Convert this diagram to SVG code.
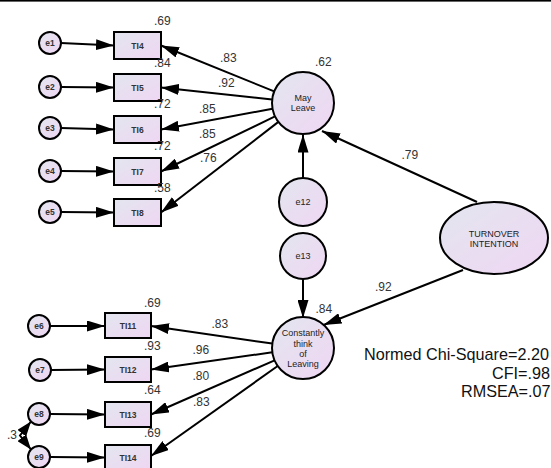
<svg xmlns="http://www.w3.org/2000/svg" width="551" height="468" viewBox="0 0 551 468">
  <defs>
    <linearGradient id="fillGrad" x1="0" y1="0" x2="1" y2="1">
      <stop offset="0" stop-color="#e3e6ef"/>
      <stop offset="1" stop-color="#efd6f3"/>
    </linearGradient>
    <marker id="arrow" viewBox="0 0 18 11" refX="18" refY="5.5" markerWidth="18" markerHeight="11" markerUnits="userSpaceOnUse" orient="auto-start-reverse">
      <path d="M0,0 L18,5.5 L0,11 Z" fill="#000"/>
    </marker>
    <marker id="arrowSmall" viewBox="0 0 15 11" refX="15" refY="5.5" markerWidth="15" markerHeight="11" markerUnits="userSpaceOnUse" orient="auto-start-reverse">
      <path d="M0,0 L15,5.5 L0,11 Z" fill="#000"/>
    </marker>
  </defs>
  <style>
    .node { fill: url(#fillGrad); stroke: #000; stroke-width: 2; }
    .lbl { font-family: "Liberation Sans", Arial, sans-serif; font-size: 9px; fill: #222; text-anchor: middle; }
    .lbl.b { font-weight: bold; fill: #333; font-size: 8.5px; }
    .coef { font-family: "Liberation Sans", Arial, sans-serif; font-size: 12px; fill: #333; }
    .fit { font-family: "Liberation Sans", Arial, sans-serif; font-size: 16.2px; fill: #111; }
    .conn line, .conn path { stroke: #000; stroke-width: 2; fill: none; marker-end: url(#arrow); }
  </style>
  <rect width="551" height="468" fill="#fff"/>
  <rect x="0" y="0" width="551" height="1.6" fill="#000"/>

  <!-- connectors -->
  <g id="connectors" class="conn">
    <!-- error terms to indicators -->
    <line x1="61" y1="43" x2="114" y2="45.5"/>
    <line x1="61" y1="87" x2="114" y2="87.5"/>
    <line x1="61" y1="128" x2="114" y2="129.5"/>
    <line x1="61" y1="171" x2="114" y2="171.5"/>
    <line x1="61" y1="212" x2="114" y2="212.5"/>
    <line x1="50" y1="326" x2="105" y2="326"/>
    <line x1="51" y1="370" x2="105" y2="369.5"/>
    <line x1="50" y1="414" x2="105" y2="414.5"/>
    <line x1="50" y1="457" x2="105" y2="457.5"/>
    <!-- May Leave loadings -->
    <line x1="274.2" y1="91.4" x2="161" y2="45.5"/>
    <line x1="272.2" y1="99.5" x2="161" y2="87.5"/>
    <line x1="272.5" y1="108.7" x2="161" y2="129.5"/>
    <line x1="275" y1="116.4" x2="161" y2="171.5"/>
    <line x1="278.4" y1="121.9" x2="161" y2="212.5"/>
    <!-- Constantly think of Leaving loadings -->
    <line x1="272.3" y1="343.6" x2="151" y2="326"/>
    <line x1="272.3" y1="352.3" x2="151" y2="369.5"/>
    <line x1="274.6" y1="360.3" x2="151" y2="414.5"/>
    <line x1="277.7" y1="366" x2="151" y2="456"/>
    <!-- structural paths -->
    <line x1="477" y1="202" x2="322" y2="131"/>
    <line x1="463" y1="270" x2="323.5" y2="325"/>
    <line x1="303" y1="178" x2="303" y2="134.5"/>
    <line x1="303" y1="279" x2="303" y2="318"/>
    <!-- e8 / e9 covariance -->
    <path d="M31,421.5 L20,435.5 L31,449.5" style="marker-start:url(#arrowSmall);marker-end:url(#arrowSmall)"/>
  </g>

  <!-- error terms -->
  <g id="e1"><circle class="node" cx="50" cy="43" r="11"/><text class="lbl b" x="50" y="46">e1</text></g>
  <g id="e2"><circle class="node" cx="50" cy="87" r="11"/><text class="lbl b" x="50" y="90">e2</text></g>
  <g id="e3"><circle class="node" cx="50" cy="128" r="11"/><text class="lbl b" x="50" y="131">e3</text></g>
  <g id="e4"><circle class="node" cx="50" cy="171" r="11"/><text class="lbl b" x="50" y="174">e4</text></g>
  <g id="e5"><circle class="node" cx="50" cy="212" r="11"/><text class="lbl b" x="50" y="215">e5</text></g>
  <g id="e6"><circle class="node" cx="39" cy="326" r="11"/><text class="lbl b" x="39" y="329">e6</text></g>
  <g id="e7"><circle class="node" cx="40" cy="370" r="11"/><text class="lbl b" x="40" y="373">e7</text></g>
  <g id="e8"><circle class="node" cx="39" cy="414" r="11"/><text class="lbl b" x="39" y="417">e8</text></g>
  <g id="e9"><circle class="node" cx="39" cy="457" r="11"/><text class="lbl b" x="39" y="460">e9</text></g>

  <!-- indicators -->
  <g id="TI4"><rect class="node" x="114" y="32" width="47" height="27"/><text class="lbl b" x="137.5" y="48.5">TI4</text></g>
  <g id="TI5"><rect class="node" x="114" y="74" width="47" height="27"/><text class="lbl b" x="137.5" y="90.5">TI5</text></g>
  <g id="TI6"><rect class="node" x="114" y="116" width="47" height="27"/><text class="lbl b" x="137.5" y="132.5">TI6</text></g>
  <g id="TI7"><rect class="node" x="114" y="158" width="47" height="27"/><text class="lbl b" x="137.5" y="174.5">TI7</text></g>
  <g id="TI8"><rect class="node" x="114" y="199" width="47" height="27"/><text class="lbl b" x="137.5" y="215.5">TI8</text></g>
  <g id="TI11"><rect class="node" x="105" y="313" width="46" height="25"/><text class="lbl b" x="128" y="328.5">TI11</text></g>
  <g id="TI12"><rect class="node" x="105" y="357" width="46" height="25"/><text class="lbl b" x="128" y="372.5">TI12</text></g>
  <g id="TI13"><rect class="node" x="105" y="402" width="46" height="25"/><text class="lbl b" x="128" y="417.5">TI13</text></g>
  <g id="TI14"><rect class="node" x="105" y="445" width="46" height="25"/><text class="lbl b" x="128" y="460.5">TI14</text></g>

  <!-- latent factors -->
  <g id="may-leave">
    <circle class="node" cx="303" cy="103" r="31"/>
    <text class="lbl" x="303" y="101">May</text>
    <text class="lbl" x="303" y="111">Leave</text>
  </g>
  <g id="e12"><circle class="node" cx="303" cy="202" r="24"/><text class="lbl" x="303" y="205">e12</text></g>
  <g id="e13"><circle class="node" cx="303" cy="256" r="23"/><text class="lbl" x="303" y="259">e13</text></g>
  <g id="constantly-think-of-leaving">
    <circle class="node" cx="303" cy="348" r="31"/>
    <text class="lbl" x="303" y="336">Constantly</text>
    <text class="lbl" x="303" y="346.5">think</text>
    <text class="lbl" x="303" y="356.5">of</text>
    <text class="lbl" x="303" y="366.5">Leaving</text>
  </g>
  <g id="turnover-intention">
    <ellipse class="node" cx="494" cy="238" rx="54" ry="36"/>
    <text class="lbl" x="494" y="237">TURNOVER</text>
    <text class="lbl" x="494" y="247">INTENTION</text>
  </g>

  <!-- estimates -->
  <g id="estimates" class="coef">
    <text x="154" y="25">.69</text>
    <text x="154" y="66.5">.84</text>
    <text x="154" y="108">.72</text>
    <text x="154" y="150">.72</text>
    <text x="154" y="191.5">.58</text>
    <text x="220" y="62">.83</text>
    <text x="218" y="87">.92</text>
    <text x="199" y="112.5">.85</text>
    <text x="199" y="138">.85</text>
    <text x="200" y="162">.76</text>
    <text x="315" y="66">.62</text>
    <text x="401.5" y="159">.79</text>
    <text x="375" y="291">.92</text>
    <text x="315.5" y="313">.84</text>
    <text x="144" y="306.5">.69</text>
    <text x="144" y="350">.93</text>
    <text x="144" y="394">.64</text>
    <text x="144" y="437">.69</text>
    <text x="211.5" y="328">.83</text>
    <text x="192.5" y="354">.96</text>
    <text x="192.5" y="380">.80</text>
    <text x="193" y="405.5">.83</text>
    <text x="7" y="439">.3</text>
  </g>

  <!-- fit indices -->
  <g id="fit-indices" class="fit">
    <text x="364" y="360">Normed Chi-Square=2.20</text>
    <text x="492" y="379">CFI=.98</text>
    <text x="461" y="397">RMSEA=.07</text>
  </g>
</svg>
